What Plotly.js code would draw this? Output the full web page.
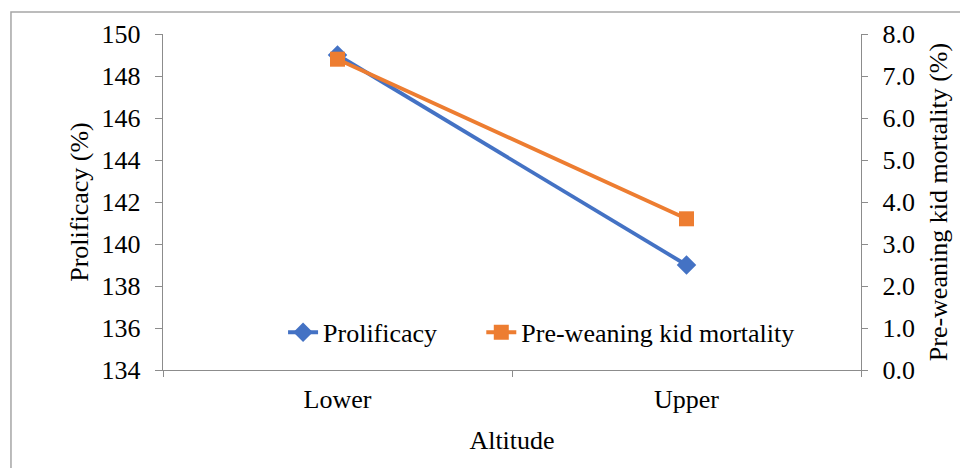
<!DOCTYPE html>
<html>
<head>
<meta charset="utf-8">
<script src="https://cdn.plot.ly/plotly-3.0.1.min.js"></script>
<style>html,body{margin:0;padding:0;background:#fff;}#chart{width:960px;height:468px;}</style>
</head>
<body>
<div id="chart"></div>
<script>
var categories = ["Lower", "Upper"];
var prolificacy = [149, 139];
var mortality = [7.4, 3.6];
var leftTicks = [134, 136, 138, 140, 142, 144, 146, 148, 150];
var rightTicks = [0, 1, 2, 3, 4, 5, 6, 7, 8];

var FONT = "'Liberation Serif', 'Times New Roman', serif";
var AX = "#8c8c8c";
var FS = 26;

var traces = [
  {x: categories, y: prolificacy, name: "Prolificacy", type: "scatter", mode: "lines+markers",
   line: {color: "#4472C4", width: 3.8}, marker: {symbol: "diamond", size: 15, color: "#4472C4"},
   yaxis: "y", legend: "legend"},
  {x: categories, y: mortality, name: "Pre-weaning kid mortality", type: "scatter", mode: "lines+markers",
   line: {color: "#ED7D31", width: 3.8}, marker: {symbol: "square", size: 15, color: "#ED7D31"},
   yaxis: "y2", legend: "legend2"}
];

var legendBase = {orientation: "h", y: 0.112, xanchor: "left", yanchor: "middle",
  bgcolor: "rgba(0,0,0,0)", font: {family: FONT, size: FS}, itemwidth: 30};

var layout = {
  width: 960, height: 468,
  margin: {l: 163, r: 99, t: 34, b: 98},
  paper_bgcolor: "#fff", plot_bgcolor: "#fff",
  font: {family: FONT, size: FS, color: "#000"},
  showlegend: true,
  legend: Object.assign({}, legendBase, {x: 0.172}),
  legend2: Object.assign({}, legendBase, {x: 0.456}),
  xaxis: {type: "category", range: [-0.5, 1.5], showline: true, linecolor: AX, linewidth: 1.3,
          ticks: "outside", tickson: "boundaries", ticklen: 6, tickcolor: AX, showgrid: false, zeroline: false,
          tickfont: {family: FONT, size: FS}, ticklabelstandoff: 5,
          title: {text: "Altitude", font: {family: FONT, size: FS}, standoff: 18}},
  yaxis: {range: [134, 150], tickvals: leftTicks, showline: true, linecolor: AX, linewidth: 1.3,
          ticks: "outside", ticklen: 7, tickcolor: AX, showgrid: false, zeroline: false,
          tickfont: {family: FONT, size: FS}, ticklabelstandoff: 9,
          title: {text: "Prolificacy (%)", font: {family: FONT, size: FS}, standoff: 5}},
  yaxis2: {range: [0, 8], tickvals: rightTicks, tickformat: ".1f", overlaying: "y", side: "right",
           showline: true, linecolor: AX, linewidth: 1.3, ticks: "outside", ticklen: 6, tickcolor: AX,
           showgrid: false, zeroline: false, tickfont: {family: FONT, size: FS}, ticklabelstandoff: 9,
           title: {text: "Pre-weaning kid mortality (%)", font: {family: FONT, size: FS}, standoff: 14}},
  shapes: [{type: "rect", xref: "paper", yref: "paper", x0: -0.2178, x1: 1.3, y0: -0.6, y1: 1.0655,
            line: {color: "#a6a6a6", width: 1.5}, fillcolor: "rgba(0,0,0,0)", layer: "below"}]
};

Plotly.newPlot("chart", traces, layout, {displayModeBar: false, staticPlot: true});
</script>
</body>
</html>
